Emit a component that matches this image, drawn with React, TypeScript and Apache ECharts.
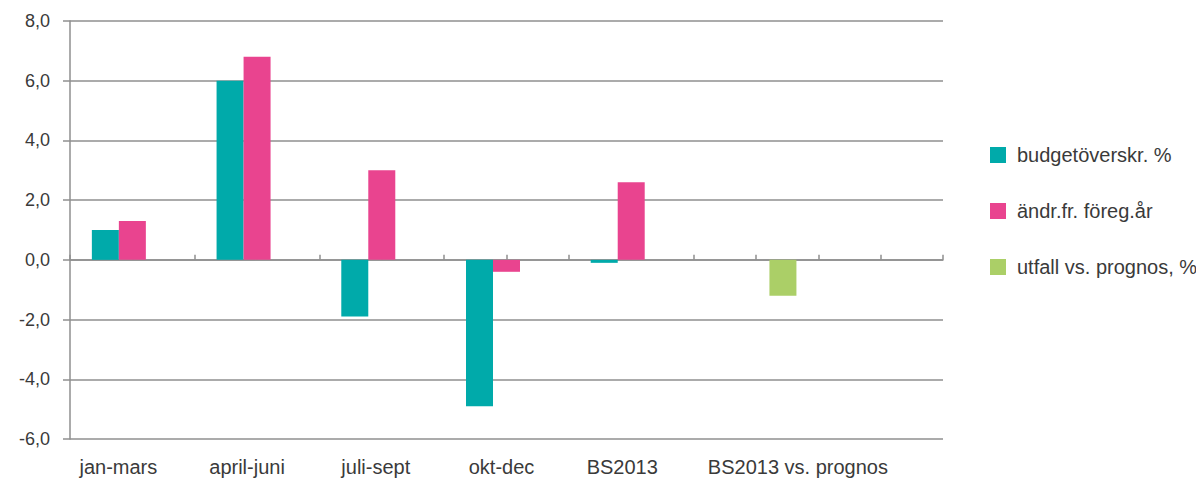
import React, { useEffect, useRef } from "react";
import * as echarts from "echarts";

const categories = ["jan-mars", "april-juni", "juli-sept", "okt-dec", "BS2013", "BS2013 vs. prognos", ""];
// horizontal nudge of each category label (px, negative = left)
const labelShift = [-14, -10, -6, -5, -9, 42, 0];
const seriesNames = ["budgetöverskr. %", "ändr.fr. föreg.år", "utfall vs. prognos, %"];
const budget = [1.0, 6.0, -1.9, -4.9, -0.1, null, null];
const change = [1.3, 6.8, 3.0, -0.4, 2.6, null, null];
const outcome = [null, null, null, null, null, -1.2, null];
const colors = ["#00AAAA", "#E9448F", "#ABCF67"];

const FONT = "'Liberation Sans', Arial, sans-serif";
const GREY = "#8f8f8f";

export default function App() {
  const ref = useRef<HTMLDivElement>(null);
  useEffect(() => {
    const chart = echarts.init(ref.current!, null, { renderer: "svg" });
    const half = Array.from({ length: categories.length * 2 }, (_, i) => String(i));
    chart.setOption({
      animation: false,
      textStyle: { fontFamily: FONT },
      grid: { left: 70, right: 253, top: 21, bottom: 46, containLabel: false },
      legend: {
        orient: "vertical",
        left: 985,
        top: 140,
        itemWidth: 16,
        itemHeight: 16,
        itemGap: 36,
        icon: "rect",
        textStyle: { fontSize: 20, color: "#3a3a3a", fontFamily: FONT, padding: [0, 0, 0, 6] },
        data: seriesNames,
      },
      xAxis: [
        {
          type: "category",
          data: categories.map((c, i) => ({
            value: c,
            textStyle: {
              padding: labelShift[i] < 0 ? [0, -2 * labelShift[i], 0, 0] : [0, 0, 0, 2 * labelShift[i]],
            },
          })),
          axisLine: { show: false, onZero: false },
          axisTick: { show: false },
          axisLabel: { interval: 0, margin: 18, fontSize: 20, color: "#3a3a3a", fontFamily: FONT },
        },
        {
          type: "category",
          data: half,
          position: "bottom",
          axisLine: { show: true, onZero: true, onZeroAxisIndex: 0, lineStyle: { color: GREY, width: 1.5 } },
          axisTick: { show: true, inside: true, length: 5, interval: 0, lineStyle: { color: GREY, width: 1.5 } },
          axisLabel: { show: false },
        },
      ],
      yAxis: {
        type: "value",
        min: -6,
        max: 8,
        interval: 2,
        axisLine: { show: true, lineStyle: { color: GREY, width: 1.5 } },
        axisTick: { show: true, length: 7, lineStyle: { color: GREY, width: 1.5 } },
        splitLine: { show: true, lineStyle: { color: GREY, width: 1.5 } },
        axisLabel: {
          margin: 20,
          fontSize: 18,
          color: "#3a3a3a",
          fontFamily: FONT,
          formatter: (v: number) => v.toFixed(1).replace(".", ","),
        },
      },
      series: [budget, change, outcome].map((d, i) => ({
        name: seriesNames[i],
        type: "bar",
        xAxisIndex: 0,
        data: d,
        barWidth: 27,
        barGap: "0%",
        itemStyle: { color: colors[i] },
      })),
    });
    return () => chart.dispose();
  }, []);
  return <div ref={ref} style={{ position: "absolute", left: 0, top: 0, width: 1196, height: 485 }} />;
}
